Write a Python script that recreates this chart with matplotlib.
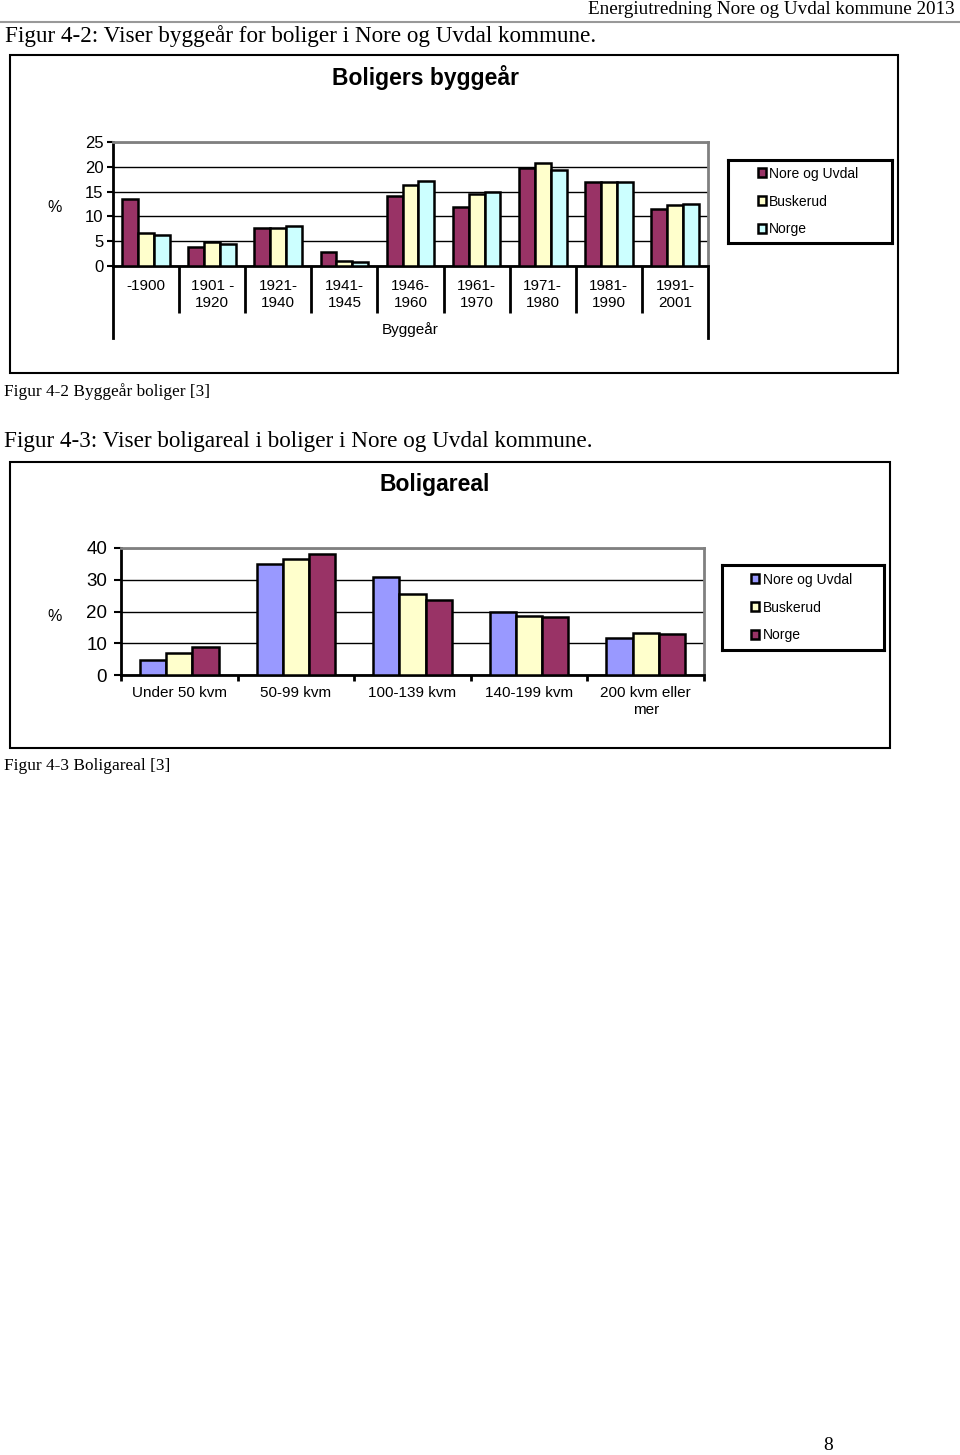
import numpy as np
import matplotlib
matplotlib.use('Agg')
import matplotlib.pyplot as plt
from matplotlib.patches import Rectangle, Patch
from matplotlib.lines import Line2D

# data
periods = ['-1900', '1901 -\n1920', '1921-\n1940', '1941-\n1945', '1946-\n1960',
           '1961-\n1970', '1971-\n1980', '1981-\n1990', '1991-\n2001']
bygg_nore = [13.5, 3.8, 7.7, 2.9, 14.1, 11.8, 19.7, 17.0, 11.5]
bygg_buskerud = [6.6, 4.8, 7.7, 1.1, 16.4, 14.6, 20.7, 17.0, 12.2]
bygg_norge = [6.3, 4.5, 8.0, 0.9, 17.2, 15.0, 19.4, 17.0, 12.4]

areas = ['Under 50 kvm', '50-99 kvm', '100-139 kvm', '140-199 kvm', '200 kvm eller\nmer']
areal_nore = [4.7, 34.9, 30.8, 19.7, 11.5]
areal_buskerud = [6.8, 36.6, 25.6, 18.6, 13.3]
areal_norge = [8.7, 38.2, 23.7, 18.3, 12.8]

series = ['Nore og Uvdal', 'Buskerud', 'Norge']
colors1 = ['#993366', '#FFFFCC', '#CCFFFF']
colors2 = ['#9999FF', '#FFFFCC', '#993366']

W, H = 960, 1455
SERIF = 'Liberation Serif'
SANS = 'Liberation Sans'
PX = 72 / 100  # points per pixel

fig = plt.figure(figsize=(W / 100, H / 100), dpi=100)


def box(l, t, r, b):
    return [l / W, 1 - b / H, (r - l) / W, (b - t) / H]


def ftext(x, y, s, **kw):
    fig.text(x / W, 1 - y / H, s, **kw)


def frame(l, t, r, b, lw=1.5, color='black'):
    fig.patches.append(Rectangle((l / W, 1 - b / H), (r - l) / W, (b - t) / H,
                                 transform=fig.transFigure, fill=False,
                                 lw=lw, edgecolor=color))


def legend_box(l, t, r, b, colors):
    lax = fig.add_axes(box(l, t, r, b))
    lax.set_xticks([])
    lax.set_yticks([])
    for sp in lax.spines.values():
        sp.set_linewidth(2.2)
    handles = [Patch(facecolor=c, edgecolor='black', lw=1.8) for c in colors]
    lax.legend(handles, series, loc='center left', bbox_to_anchor=(0.18, 0.5),
               frameon=False, prop={'family': SANS, 'size': 10},
               handlelength=0.6, handleheight=0.6, handletextpad=0.25,
               labelspacing=1.0, borderpad=0, borderaxespad=0)


# page header
fig.add_artist(Line2D([0, 1], [1 - 22 / H] * 2, color='#999999', lw=1.5))
ftext(955, 10, 'Energiutredning Nore og Uvdal kommune 2013', family=SERIF,
      fontsize=13.8, ha='right', va='center')
ftext(5, 36, 'Figur 4-2: Viser byggeår for boliger i Nore og Uvdal kommune.',
      family=SERIF, fontsize=16.7, va='center')

# ---- chart 1: byggeår ----
frame(10, 55, 898, 373)
ftext(426, 78, 'Boligers byggeår', family=SANS, fontsize=16.5, weight='bold',
      ha='center', va='center')

a_l, a_t, a_r, a_b = 113, 142, 708, 266
ax1 = fig.add_axes(box(a_l, a_t, a_r, a_b))
x = np.arange(len(periods))
w = 0.24
for i, vals in enumerate([bygg_nore, bygg_buskerud, bygg_norge]):
    ax1.bar(x + (i - 1) * w, vals, w, color=colors1[i], edgecolor='black',
            lw=1.8, zorder=3)
ax1.set_xlim(-0.5, len(periods) - 0.5)
ax1.set_ylim(0, 25)
ax1.set_yticks(range(0, 26, 5))
ax1.yaxis.grid(True, color='black', lw=1)
ax1.set_axisbelow(True)
for s in ['top', 'right']:
    ax1.spines[s].set_color('#808080')
    ax1.spines[s].set_linewidth(2)
for s in ['left', 'bottom']:
    ax1.spines[s].set_linewidth(2)
ax1.set_xticks(x[:-1] + 0.5)
ax1.set_xticklabels([])
ax1.tick_params(axis='x', which='major', length=47 * PX, width=2, direction='out')
ax1.set_xticks(x, minor=True)
ax1.set_xticklabels(periods, minor=True, family=SANS, fontsize=11, linespacing=1.3)
ax1.tick_params(axis='x', which='minor', length=0, pad=9)
ax1.tick_params(axis='y', length=4, width=1.5, pad=3)
for lab in ax1.get_yticklabels():
    lab.set_family(SANS)
    lab.set_fontsize(12)
# outer category lines reaching down under the label rows
down = (338 - a_b) / (a_b - a_t)
for xe in ax1.get_xlim():
    ax1.plot([xe, xe], [0, -down], transform=ax1.get_xaxis_transform(),
             color='black', lw=2, clip_on=False)
ax1.text(0.5, -(330 - a_b) / (a_b - a_t), 'Byggeår', transform=ax1.transAxes,
         family=SANS, fontsize=11, ha='center', va='center')
ftext(55, 207, '%', family=SANS, fontsize=11.5, ha='center', va='center')
legend_box(728, 160, 892, 243, colors1)

ftext(4, 392, 'Figur 4-2 Byggeår boliger [3]', family=SERIF, fontsize=12.4,
      va='center')
ftext(4, 441, 'Figur 4-3: Viser boligareal i boliger i Nore og Uvdal kommune.',
      family=SERIF, fontsize=16.7, va='center')

# ---- chart 2: boligareal ----
frame(10, 462, 890, 748)
ftext(435, 485, 'Boligareal', family=SANS, fontsize=16.5, weight='bold',
      ha='center', va='center')

b_l, b_t, b_r, b_b = 121, 548, 704, 675
ax2 = fig.add_axes(box(b_l, b_t, b_r, b_b))
x2 = np.arange(len(areas))
w2 = 0.225
for i, vals in enumerate([areal_nore, areal_buskerud, areal_norge]):
    ax2.bar(x2 + (i - 1) * w2, vals, w2, color=colors2[i], edgecolor='black',
            lw=1.8, zorder=3)
ax2.set_xlim(-0.5, len(areas) - 0.5)
ax2.set_ylim(0, 40)
ax2.set_yticks(range(0, 41, 10))
ax2.yaxis.grid(True, color='black', lw=1)
ax2.set_axisbelow(True)
for s in ['top', 'right']:
    ax2.spines[s].set_color('#808080')
    ax2.spines[s].set_linewidth(2)
for s in ['left', 'bottom']:
    ax2.spines[s].set_linewidth(2)
ax2.set_xticks(np.arange(len(areas) + 1) - 0.5)
ax2.set_xticklabels([])
ax2.tick_params(axis='x', which='major', length=6 * PX, width=2, direction='out')
ax2.set_xticks(x2, minor=True)
ax2.set_xticklabels(areas, minor=True, family=SANS, fontsize=11, linespacing=1.3)
ax2.tick_params(axis='x', which='minor', length=0, pad=8)
ax2.tick_params(axis='y', length=5, width=1.5, pad=5)
for lab in ax2.get_yticklabels():
    lab.set_family(SANS)
    lab.set_fontsize(13.5)
ftext(55, 616, '%', family=SANS, fontsize=11.5, ha='center', va='center')
legend_box(722, 565, 884, 650, colors2)

ftext(4, 766, 'Figur 4-3 Boligareal [3]', family=SERIF, fontsize=12.4,
      va='center')

ftext(828, 1445, '8', family=SERIF, fontsize=14, ha='center', va='center')

fig.savefig('out.png', dpi=100)
